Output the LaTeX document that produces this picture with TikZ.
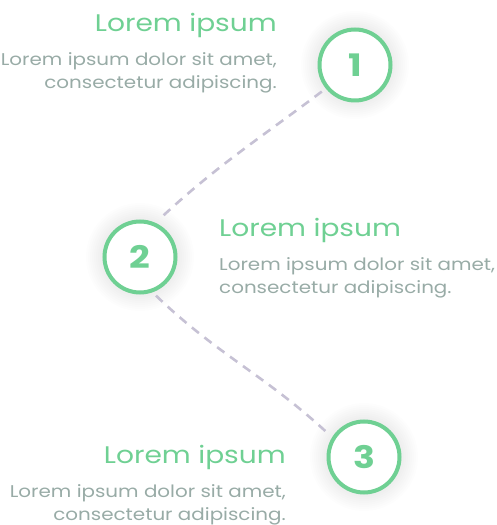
\documentclass[tikz,border=0pt]{standalone}
\usepackage{fontspec}
\setmainfont[FakeStretch=1.17]{Poppins}
\usetikzlibrary{positioning}

\definecolor{stepgreen}{HTML}{6FD093}
\definecolor{bodygray}{HTML}{98ABA6}
\definecolor{dashgray}{HTML}{C6C1D4}

\begin{document}
\begin{tikzpicture}[x=1pt, y=1pt,
    numcircle/.style={circle, draw=stepgreen, line width=4pt, fill=white,
      minimum size=71pt, inner sep=0pt, outer sep=0pt, text=stepgreen,
      font=\fontsize{31}{31}\selectfont\bfseries},
    heading/.style={inner sep=0pt, text=stepgreen,
      font=\fontsize{24}{28}\selectfont},
    bodytext/.style={inner sep=0pt, text=bodygray,
      font=\fontsize{17}{23}\selectfont},
    link/.style={dashgray, line width=2.6pt, dash pattern=on 9pt off 7pt,
      shorten <=7pt, shorten >=7pt}]
  \useasboundingbox (0,0) rectangle (497,525);

  % soft glow behind the circles
  \foreach \p in {(355,460),(140,268),(364,68)}
    \foreach \r in {38,40,...,54}
      \fill[black, opacity=0.007] \p circle (\r pt);

  \node (c1) [numcircle] at (355,460) {1};
  \node (c2) [numcircle] at (140,268) {2};
  \node (c3) [numcircle] at (364,68) {3};

  \draw[link] (c1.219) to[out=217, in=43] (c2.67);
  \draw[link] (c2.288) to[out=-44, in=137] (c3.149);

  \node (h1) [heading, anchor=base east] at (277,493) {Lorem ipsum};
  \node (b1) [bodytext, align=right, below left=20pt and 0pt of h1.base east]
    {Lorem ipsum dolor sit amet,\\consectetur adipiscing.};

  \node (h2) [heading, anchor=base west] at (219,288) {Lorem ipsum};
  \node (b2) [bodytext, align=left, below right=20pt and 0pt of h2.base west]
    {Lorem ipsum dolor sit amet,\\consectetur adipiscing.};

  \node (h3) [heading, anchor=base east] at (286,61) {Lorem ipsum};
  \node (b3) [bodytext, align=right, below left=20pt and 0pt of h3.base east]
    {Lorem ipsum dolor sit amet,\\consectetur adipiscing.};
\end{tikzpicture}
\end{document}
